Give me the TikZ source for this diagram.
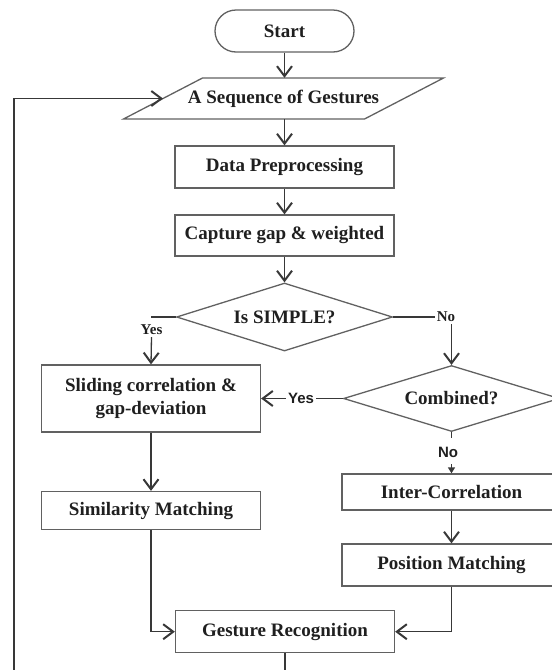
\documentclass[tikz,border=0pt]{standalone}
\usepackage{fontspec}
\setmainfont{Liberation Serif}
\newfontfamily\labsans{Liberation Sans}
\usetikzlibrary{shapes.geometric,arrows.meta,calc}
\begin{document}
\begin{tikzpicture}[x=1pt,y=-1pt,
  boxline/.style={draw=black!62, line width=1.3pt},
  pbox/.style={boxline, rectangle, minimum width=219pt, inner sep=0pt,
    font=\fontsize{19}{23}\selectfont\bfseries, text=black!88, align=center},
  dec/.style={boxline, diamond, minimum width=216pt, minimum height=68pt,
    inner sep=0pt, aspect=3, font=\fontsize{19}{23}\selectfont\bfseries, text=black!88},
  lbl/.style={font=\fontsize{15}{18}\selectfont\bfseries, text=black!88, inner sep=2pt},
  slbl/.style={font=\labsans\fontsize{15}{18}\selectfont\bfseries, text=black!88, inner sep=2pt},
  flow/.style={draw=black!78, line width=1.3pt},
  arr/.style={flow, -{Straight Barb[length=10pt,width=15pt,line width=2pt]}},
  smallarr/.style={flow, -{Triangle[length=6pt,width=7pt]}},
]
\useasboundingbox (0,0) rectangle (552,670);
\clip (0,0) rectangle (552,670);

% nodes
\node[pbox, rounded corners=21pt, minimum width=139pt, minimum height=42pt] (start) at (284.5,31) {Start};
\node[minimum width=161pt, minimum height=41pt, inner sep=0pt,
      font=\fontsize{19}{23}\selectfont\bfseries, text=black!88] (para) at (283.5,98.5) {A Sequence of Gestures};
\draw[boxline] ($(para.center)+(-81,-20.5)$) -- ($(para.center)+(160,-20.5)$)
  -- ($(para.center)+(81,20.5)$) -- ($(para.center)+(-160,20.5)$) -- cycle;
\coordinate (pin) at ($(para.center)+(-120.5,0)$);

\node[pbox, minimum height=42pt] (data) at (284.5,167) {Data Preprocessing};
\node[pbox, minimum height=41pt] (capture) at (284.5,235.5) {Capture gap \& weighted};
\node[dec] (simple) at (284.5,317) {Is SIMPLE?};
\coordinate (yes1) at (151,317);
\node[lbl] (yesA) at (151.5,330) {Yes};
\node[lbl] (noA) at (446,317) {No};
\node[pbox, minimum height=67pt] (sliding) at (151,398.5) {Sliding correlation \&\\gap-deviation};
\node[dec, minimum height=66pt] (comb) at (451.5,398.5) {Combined?};
\node[slbl] (yesB) at (301,398.5) {Yes};
\node[slbl] (noB) at (448,452) {No};
\coordinate (nb1) at (451.5,438);
\coordinate (nb2) at (451.5,464);
\node[pbox, minimum height=36pt] (inter) at (451.5,492) {Inter-Correlation};
\node[pbox, minimum height=42pt] (position) at (451.5,565) {Position Matching};
\node[pbox, minimum height=38pt] (similar) at (151,510.5) {Similarity Matching};
\node[pbox, minimum height=42pt] (gest) at (285,631.7) {Gesture Recognition};
\coordinate (lc) at (14,700);

% connectors
\draw[arr] (start.south) -- (start.south |- para.north);
\draw[arr] (para.south -| data.north) -- (data.north);
\draw[arr] (data.south) -- (capture.north);
\draw[arr] (capture.south) -- (simple.north);
\draw[flow] (simple.west) -- (yes1);
\draw[arr] (yesA.south) -- (sliding.north);
\draw[flow] (simple.east) -- (noA.west);
\draw[arr] (noA.south -| comb.north) -- (comb.north);
\draw[flow] (comb.west) -- (yesB.east);
\draw[arr] (yesB.west) -- (sliding.east);
\draw[flow] (comb.south) -- (nb1);
\draw[smallarr] (nb2) -- (inter.north);
\draw[arr] (inter.south) -- (position.north);
\draw[arr] (sliding.south) -- (similar.north);
\draw[arr] (similar.south) |- (gest.west);
\draw[arr] (position.south) |- (gest.east);
\draw[arr] (gest.south) |- (lc) |- (pin);
\end{tikzpicture}
\end{document}
